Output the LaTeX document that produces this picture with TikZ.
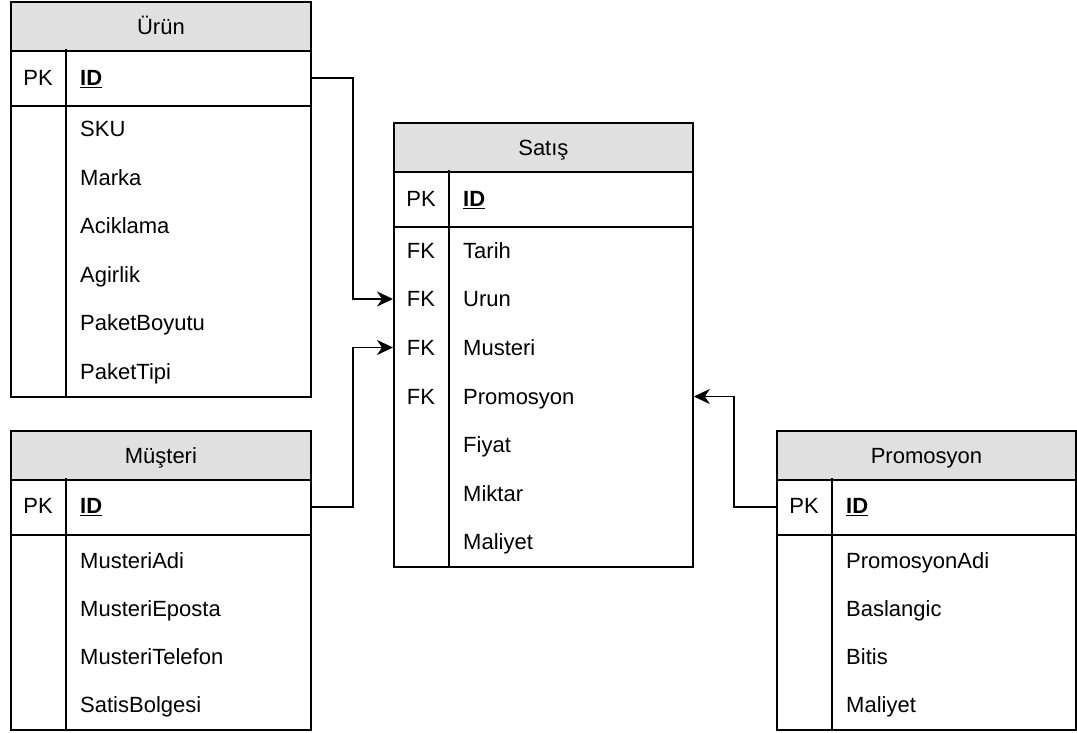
\documentclass[tikz,border=0pt]{standalone}
\usepackage{fontspec}
\setmainfont{Liberation Sans}
\usetikzlibrary{arrows.meta,calc}
\definecolor{hdrgray}{HTML}{E0E0E0}
\tikzset{
  tbl/.style={draw, line width=1.8pt, minimum width=300pt, anchor=north west, inner sep=0pt},
  hdr/.style={tbl, fill=hdrgray, minimum height=49pt, text height=15.8pt, text depth=0pt},
  pkrow/.style={tbl, minimum height=56pt},
  bodybox/.style={tbl},
  fld/.style={anchor=west, inner sep=0pt, text height=15.8pt, text depth=0pt},
  keytxt/.style={anchor=center, inner sep=0pt, text height=15.8pt, text depth=0pt},
  divider/.style={line width=1.8pt},
  conn/.style={line width=1.8pt, -{Stealth[length=16pt,width=15pt,inset=5pt]}}
}
\newcommand{\pkid}{\underline{\textbf{ID}}}
\begin{document}
\begin{tikzpicture}[x=1pt,y=-1pt,font=\fontsize{22}{26}\selectfont]
\useasboundingbox (0,0) rectangle (1077,733);

% ---- Urun ----
\node[bodybox, minimum height=291pt] (u-body) at (10,105) {};
\node[pkrow] (u-pk) at (10,49) {};
\node[hdr] (u-h) at (10,1) {Ürün};
\draw[divider] (u-pk.north west) ++(56,0) -- ($(u-body.south west)+(56,0)$);
\node[keytxt] (u-pkl) at (38,77.5) {PK};
\node[fld] (u-id) at (80,77.5) {\pkid};
\node[fld] (u-f1) at (80,129) {SKU};
\node[fld] (u-f2) at (80,177.5) {Marka};
\node[fld] (u-f3) at (80,226) {Aciklama};
\node[fld] (u-f4) at (80,274.5) {Agirlik};
\node[fld] (u-f5) at (80,323) {PaketBoyutu};
\node[fld] (u-f6) at (80,371.5) {PaketTipi};

% ---- Satis ----
\node[bodybox, minimum width=299pt, minimum height=340pt] (s-body) at (393,226) {};
\node[pkrow, minimum width=299pt] (s-pk) at (393,170) {};
\node[hdr, minimum width=299pt] (s-h) at (393,122) {Satış};
\draw[divider] (s-pk.north west) ++(56,0) -- ($(s-body.south west)+(56,0)$);
\node[keytxt] (s-pkl) at (421,198.5) {PK};
\node[fld] (s-id) at (463,198.5) {\pkid};
\node[keytxt] (s-k1) at (421,250.5) {FK};
\node[fld] (s-tarih) at (463,250.5) {Tarih};
\node[keytxt] (s-k2) at (421,299) {FK};
\node[fld] (s-urun) at (463,299) {Urun};
\node[keytxt] (s-k3) at (421,347.5) {FK};
\node[fld] (s-musteri) at (463,347.5) {Musteri};
\node[keytxt] (s-k4) at (421,396.5) {FK};
\node[fld] (s-promosyon) at (463,396.5) {Promosyon};
\node[fld] (s-fiyat) at (463,445) {Fiyat};
\node[fld] (s-miktar) at (463,493.5) {Miktar};
\node[fld] (s-maliyet) at (463,542) {Maliyet};

% ---- Musteri ----
\node[bodybox, minimum height=195pt] (m-body) at (10,534) {};
\node[pkrow] (m-pk) at (10,478) {};
\node[hdr] (m-h) at (10,430) {Müşteri};
\draw[divider] (m-pk.north west) ++(56,0) -- ($(m-body.south west)+(56,0)$);
\node[keytxt] (m-pkl) at (38,506) {PK};
\node[fld] (m-id) at (80,506) {\pkid};
\node[fld] (m-f1) at (80,561) {MusteriAdi};
\node[fld] (m-f2) at (80,609) {MusteriEposta};
\node[fld] (m-f3) at (80,657) {MusteriTelefon};
\node[fld] (m-f4) at (80,705) {SatisBolgesi};

% ---- Promosyon ----
\node[bodybox, minimum width=299pt, minimum height=195pt] (p-body) at (776,534) {};
\node[pkrow, minimum width=299pt] (p-pk) at (776,478) {};
\node[hdr, minimum width=299pt] (p-h) at (776,430) {Promosyon};
\draw[divider] (p-pk.north west) ++(56,0) -- ($(p-body.south west)+(56,0)$);
\node[keytxt] (p-pkl) at (804,506) {PK};
\node[fld] (p-id) at (846,506) {\pkid};
\node[fld] (p-f1) at (846,561) {PromosyonAdi};
\node[fld] (p-f2) at (846,609) {Baslangic};
\node[fld] (p-f3) at (846,657) {Bitis};
\node[fld] (p-f4) at (846,705) {Maliyet};

% ---- relations ----
\draw[conn] (u-pk.east) -- ++(41,0) |- (s-body.west |- s-urun);
\draw[conn] (m-pk.east) -- ++(41,0) |- (s-body.west |- s-musteri);
\draw[conn] (p-pk.west) -- ++(-42,0) |- (s-body.east |- s-promosyon);
\end{tikzpicture}
\end{document}
